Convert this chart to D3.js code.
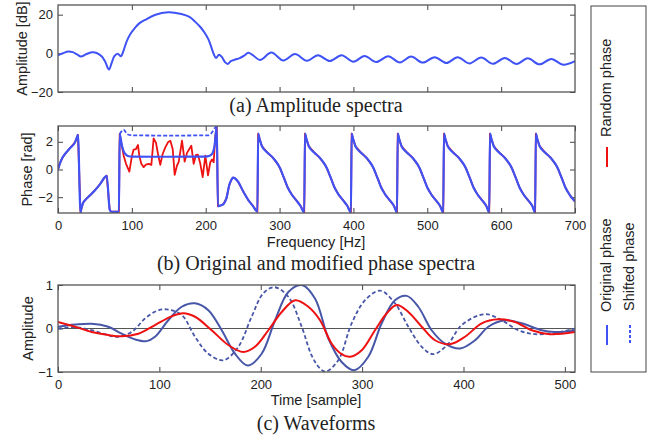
<!DOCTYPE html>
<html>
<head>
<meta charset="utf-8">
<script src="https://cdn.jsdelivr.net/npm/d3@7"></script>
<style>
  body { margin: 0; background: #fff; }
</style>
</head>
<body>
<script>
// Values
var freqTicks = [0, 100, 200, 300, 400, 500, 600, 700];
var ampTicks = [-20, 0, 20];
var phaseTicks = [-2, 0, 2];
var timeTicks = [0, 100, 200, 300, 400, 500];
var waveTicks = [-1, 0, 1];

// (a) amplitude spectrum [Hz, dB]
var ampSpectrum = [
  [0, -1.0], [7, 0.1], [14, 1.0], [20, 0.6], [26, -0.6], [31, -1.7], [38, -0.5], [45.6, 0.5],
  [52.4, 0.2], [59, -1.5], [63.6, -4.1], [69, -8.4], [72.7, -4.9], [76.3, -1.5], [80.8, -0.2],
  [85.3, -1.5], [88.4, 1.0], [93, 6.2], [98, 10.0], [104, 13.0], [110, 15.5], [118, 17.3],
  [131, 19.8], [149, 21.2], [167, 20.3], [178, 18.8], [185.5, 16.4], [193, 13.5], [199, 10.4],
  [204, 7.0], [208, 2.7], [211, -0.5], [214, -2.4], [218, -0.7], [222, -2.0], [226, -4.5],
  [229.7, -5.5], [234, -4.0], [240, -3.2], [246, -2.5], [252, -1.2], [257.7, 0.3], [264, -1.0],
  [273.5, -3.4], [289, 0.4], [305, -3.7], [321, -0.4], [337, -3.9], [352, -1.0], [368, -4.0],
  [384, -1.0], [400, -4.3], [415, -1.4], [431, -4.5], [447, -1.5], [463, -4.7], [478, -1.7],
  [494, -4.8], [510, -2.0], [526, -5.0], [541, -2.0], [557, -5.2], [573, -2.2], [589, -5.4],
  [605, -2.4], [621, -5.5], [636, -2.6], [652, -5.7], [668, -2.9], [684, -5.9], [700, -4.1]
];

// (b) original phase [Hz, rad]
var phaseOrig = [
  [0, 0], [3, 0.5], [6, 0.85], [9.5, 1.12], [16, 1.53], [23, 1.96], [25.5, 2.3], [27, 2.5],
  [30.5, -3.1], [32, -2.75], [34, -2.4], [37, -2.2], [43, -1.88], [50, -1.5], [57, -1.05],
  [63.5, -0.55], [66, -0.45], [70, -2.9], [72, -3.05], [82.5, -3.05],
  [83.5, 2.56], [86.6, 1.72], [89, 1.3], [91.2, 1.12], [95.7, 0.96], [100, 0.93], [150, 0.92],
  [200, 0.93], [204, 0.97], [208.5, 1.12], [212, 1.72], [215, 3.1],
  [216.5, -2.65], [220, -2.6], [224, -2.5], [228, -2.09], [232, -1.1], [235, -0.72], [237, -0.58],
  [240, -0.65], [244, -0.89], [251, -1.61], [257.7, -2.21], [264, -2.64], [270, -3.05],
  [271, 2.59], [273, 2.2], [276, 1.7], [283, 1.25], [291, 0.85], [298, 0.35], [301, 0.05],
  [304, -0.35], [307, -0.75], [311, -1.3], [317, -1.85], [323, -2.25], [328, -2.6], [333.4, -3.1],
  [334.4, 2.59], [336.4, 2.2], [339.4, 1.7], [346.4, 1.25], [354.4, 0.85], [361.4, 0.35], [364.4, 0.05],
  [367.4, -0.35], [370.4, -0.75], [374.4, -1.3], [380.4, -1.85], [386.4, -2.25], [391.4, -2.6], [396.6, -3.1],
  [397.6, 2.59], [399.6, 2.2], [402.6, 1.7], [409.6, 1.25], [417.6, 0.85], [424.6, 0.35], [427.6, 0.05],
  [430.6, -0.35], [433.6, -0.75], [437.6, -1.3], [443.6, -1.85], [449.6, -2.25], [454.6, -2.6], [459, -3.1],
  [460, 2.59], [462, 2.2], [465, 1.7], [472, 1.25], [480, 0.85], [487, 0.35], [490, 0.05],
  [493, -0.35], [496, -0.75], [500, -1.3], [506, -1.85], [512, -2.25], [517, -2.6], [521.6, -3.1],
  [522.6, 2.59], [524.6, 2.2], [527.6, 1.7], [534.6, 1.25], [542.6, 0.85], [549.6, 0.35], [552.6, 0.05],
  [555.6, -0.35], [558.6, -0.75], [562.6, -1.3], [568.6, -1.85], [574.6, -2.25], [579.6, -2.6], [583.9, -3.1],
  [584.9, 2.59], [586.9, 2.2], [589.9, 1.7], [596.9, 1.25], [604.9, 0.85], [611.9, 0.35], [614.9, 0.05],
  [617.9, -0.35], [620.9, -0.75], [624.9, -1.3], [630.9, -1.85], [636.9, -2.25], [641.9, -2.6], [646, -3.1],
  [647, 2.59], [649, 2.2], [652, 1.7], [659, 1.25], [667, 0.85], [674, 0.35], [677, 0.05],
  [680, -0.35], [683, -0.75], [687, -1.3], [693, -1.85], [699, -2.25], [700, -2.32]
];

// (b) random phase inside the modified band
var bandRandom = [
  [83.5, 2.56], [88.9, 1.0], [92.1, 0.41], [96.6, -0.15], [100.2, 1.0], [102.4, 1.44], [105.6, 1.48],
  [108.3, 1.77], [110.1, 1.0], [112.8, 0.41], [116, 0.17], [119.1, 0.36], [122.8, 0.41], [126.4, 0.33],
  [129.5, 2.25], [132.7, 1.92], [135.4, 1.12], [138.5, 0.33], [141.7, 1.12], [145.3, 1.6], [148.9, 1.96],
  [152.1, 2.08], [155.3, 1.48], [158, -0.39], [161.1, 0.29], [163.4, 0.53], [167.9, 2.08], [171.5, 0.57],
  [174.7, 1.2], [177.8, 1.48], [180.5, 1.72], [183.7, 0.41], [186.8, 1.05], [189.5, 1.07], [192.7, 0.41],
  [195.9, -0.55], [199.5, 1.0], [203.1, -0.43], [206.2, 0.53], [208.5, 0.72], [210.8, 0.53], [213, 2.45],
  [215, 3.1]
];

// (b) shifted phase inside the modified band
var bandShifted = [
  [83.5, 2.56], [86, 2.75], [88.9, 2.88], [91, 2.75], [93.4, 2.56], [100.2, 2.47], [150, 2.45],
  [204, 2.47], [208.5, 2.68], [213, 3.04], [215, 3.1]
];

// (c) waveforms [sample, amplitude]
var waveOrig = [
  [0, 0.04], [16.8, 0.09], [33.2, 0.11], [49.6, 0.04], [62.8, -0.12], [76, -0.25], [87.5, -0.29],
  [95.7, -0.19], [108.8, 0.19], [122, 0.5], [135.2, 0.58], [148.3, 0.42], [161.5, -0.04], [174.6, -0.58],
  [187.1, -0.85], [200.9, -0.58], [214.1, 0.19], [227.2, 0.84], [240.4, 1.0], [253.5, 0.69], [266.7, -0.23],
  [279.8, -0.77], [292.3, -0.96], [306.1, -0.65], [319.3, 0.12], [332.4, 0.65], [344, 0.75], [355.4, 0.5],
  [368.6, -0.04], [381.8, -0.35], [396.6, -0.46], [411.4, -0.27], [424.5, 0.04], [441, 0.19], [457.4, 0.12],
  [477.2, -0.04], [490.3, -0.08], [510, -0.05]
];
var waveRandom = [
  [0, 0.15], [16.8, 0.04], [33.2, -0.08], [49.6, -0.15], [62.8, -0.18], [79.3, -0.12], [95.7, 0.08],
  [112.1, 0.28], [123.6, 0.35], [135.2, 0.27], [151.6, -0.04], [168, -0.38], [182.8, -0.54], [194.3, -0.42],
  [207.5, -0.04], [220.7, 0.38], [234, 0.65], [246.9, 0.5], [258.5, 0.19], [270, -0.35], [279.8, -0.59],
  [288, -0.65], [299.6, -0.5], [312.7, -0.04], [324.3, 0.35], [334.1, 0.54], [345.6, 0.38], [358.8, 0.04],
  [371.9, -0.27], [386.7, -0.36], [401.5, -0.19], [418, 0.12], [434.4, 0.21], [450.8, 0.15], [467.3, -0.04],
  [485.3, -0.13], [510, -0.08]
];
var waveShifted = [
  [0, 0.0], [16.8, 0.03], [33.2, -0.04], [46.3, -0.13], [57.9, -0.19], [72.7, -0.08], [85.8, 0.23],
  [97, 0.4], [107.2, 0.44], [122, 0.31], [135.2, -0.19], [148.3, -0.58], [163.1, -0.73], [177.9, -0.42],
  [191, 0.27], [202.5, 0.81], [213.4, 0.95], [227.2, 0.73], [240.4, 0.04], [250.2, -0.62], [258.5, -0.92],
  [264, -0.99], [276.5, -0.73], [289.7, 0.12], [302.9, 0.65], [317.7, 0.87], [332.4, 0.58], [345.6, 0.04],
  [358.8, -0.42], [370.2, -0.59], [385, -0.35], [398.2, 0.08], [421.2, 0.33], [437.7, 0.19], [454, -0.04],
  [470.6, -0.13], [490.3, -0.1], [510, 0.0]
];

var width = 659, height = 440;
var plotLeft = 58, plotRight = 575;
var sansFont = '"Liberation Sans", Arial, sans-serif';
var serifFont = '"Liberation Serif", "Times New Roman", serif';
var specBlue = '#3f52f5', waveBlue = '#4856a8', red = '#ee1111';

var svg = d3.select('body').append('svg')
  .attr('width', width)
  .attr('height', height);

function makePanel(name, top, bottom, xDomain, yDomain, xTickVals, yTickVals, showXLabels) {
  var x = d3.scaleLinear().domain(xDomain).range([plotLeft, plotRight]);
  var y = d3.scaleLinear().domain(yDomain).range([bottom, top]);
  var g = svg.append('g');

  svg.append('clipPath').attr('id', 'clip-' + name)
    .append('rect')
    .attr('x', plotLeft).attr('y', top)
    .attr('width', plotRight - plotLeft).attr('height', bottom - top);

  var noLabel = function() { return ''; };
  var axes = [
    g.append('g').attr('transform', 'translate(0,' + bottom + ')')
      .call(d3.axisBottom(x).tickValues(xTickVals).tickSizeInner(-5).tickSizeOuter(0).tickPadding(8)
        .tickFormat(showXLabels ? d3.format('d') : noLabel)),
    g.append('g').attr('transform', 'translate(0,' + top + ')')
      .call(d3.axisTop(x).tickValues(xTickVals).tickSizeInner(-5).tickSizeOuter(0).tickFormat(noLabel)),
    g.append('g').attr('transform', 'translate(' + plotLeft + ',0)')
      .call(d3.axisLeft(y).tickValues(yTickVals).tickSizeInner(-5).tickSizeOuter(0).tickPadding(5)
        .tickFormat(d3.format('d'))),
    g.append('g').attr('transform', 'translate(' + plotRight + ',0)')
      .call(d3.axisRight(y).tickValues(yTickVals).tickSizeInner(-5).tickSizeOuter(0).tickFormat(noLabel))
  ];
  axes.forEach(function(a) {
    a.attr('font-size', 13).attr('font-family', sansFont);
    a.select('.domain').remove();
    a.selectAll('.tick line').attr('stroke', '#444');
    a.selectAll('.tick text').attr('fill', '#222');
  });

  var lines = svg.append('g').attr('clip-path', 'url(#clip-' + name + ')');
  return { x: x, y: y, lines: lines, top: top, bottom: bottom };
}

function drawBox(p) {
  svg.append('rect')
    .attr('x', plotLeft).attr('y', p.top)
    .attr('width', plotRight - plotLeft).attr('height', p.bottom - p.top)
    .attr('fill', 'none').attr('stroke', '#555').attr('stroke-width', 1.3);
}

function addLine(p, data, color, curve, widthPx, dash) {
  var line = d3.line()
    .x(function(d) { return p.x(d[0]); })
    .y(function(d) { return p.y(d[1]); })
    .curve(curve);
  p.lines.append('path')
    .datum(data)
    .attr('d', line)
    .attr('fill', 'none')
    .attr('stroke', color)
    .attr('stroke-width', widthPx)
    .attr('stroke-linejoin', 'round')
    .attr('stroke-dasharray', dash || null);
}

function addText(txt, x, y, size, family, rotate, anchor) {
  svg.append('text')
    .attr('transform', 'translate(' + x + ',' + y + ')' + (rotate ? ' rotate(-90)' : ''))
    .attr('text-anchor', anchor || 'middle')
    .attr('dy', rotate ? '0.35em' : null)
    .attr('font-family', family)
    .attr('font-size', size)
    .attr('fill', '#222')
    .text(txt);
}

// (a) amplitude
var pa = makePanel('a', 5, 92, [0, 700], [-20, 25], freqTicks.slice(1, 7), ampTicks, false);
addLine(pa, ampSpectrum, specBlue, d3.curveCatmullRom.alpha(0.5), 2);
drawBox(pa);
addText('Amplitude [dB]', 22, 48.5, 14.5, sansFont, true);
addText('(a) Amplitude spectra', 316, 112, 20, serifFont);

// (b) phase
var pb = makePanel('b', 126, 213, [0, 700], [-Math.PI, Math.PI], freqTicks, phaseTicks, true);
var randomPhase = phaseOrig.filter(function(d) { return d[0] < 83.5; })
  .concat(bandRandom, phaseOrig.filter(function(d) { return d[0] > 215; }));
addLine(pb, randomPhase, red, d3.curveLinear, 1.8);
addLine(pb, phaseOrig, specBlue, d3.curveMonotoneX, 2.2);
addLine(pb, bandShifted, specBlue, d3.curveMonotoneX, 1.8, '4,2');
drawBox(pb);
addText('Phase [rad]', 27, 169.5, 14.5, sansFont, true);
addText('Frequency [Hz]', 316, 247, 14.5, sansFont);
addText('(b) Original and modified phase spectra', 316, 270, 20, serifFont);

// (c) waveforms
var pc = makePanel('c', 285, 372, [0, 510], [-1, 1], timeTicks, waveTicks, true);
pc.lines.append('line')
  .attr('x1', plotLeft).attr('x2', plotRight)
  .attr('y1', pc.y(0)).attr('y2', pc.y(0))
  .attr('stroke', '#555').attr('stroke-width', 1);
addLine(pc, waveShifted, waveBlue, d3.curveCatmullRom.alpha(0.5), 1.8, '4,2.5');
addLine(pc, waveOrig, waveBlue, d3.curveCatmullRom.alpha(0.5), 2);
addLine(pc, waveRandom, red, d3.curveCatmullRom.alpha(0.5), 2);
drawBox(pc);
addText('Amplitude', 28, 328.5, 14.5, sansFont, true);
addText('Time [sample]', 316, 405, 14.5, sansFont);
addText('(c) Waveforms', 316, 430, 20, serifFont);

// legend
var legend = svg.append('g');
legend.append('rect')
  .attr('x', 591).attr('y', 6).attr('width', 55).attr('height', 366)
  .attr('fill', 'none').attr('stroke', '#444').attr('stroke-width', 1);
legend.append('line').attr('x1', 607).attr('x2', 607).attr('y1', 147).attr('y2', 167)
  .attr('stroke', red).attr('stroke-width', 2);
legend.append('line').attr('x1', 607).attr('x2', 607).attr('y1', 325).attr('y2', 345)
  .attr('stroke', specBlue).attr('stroke-width', 2);
legend.append('line').attr('x1', 630).attr('x2', 630).attr('y1', 325).attr('y2', 345)
  .attr('stroke', specBlue).attr('stroke-width', 2).attr('stroke-dasharray', '3,2');
addText('Random phase', 606, 137, 14.5, sansFont, true, 'start');
addText('Original phase', 606, 312, 14.5, sansFont, true, 'start');
addText('Shifted phase', 629, 311, 14.5, sansFont, true, 'start');
</script>
</body>
</html>
